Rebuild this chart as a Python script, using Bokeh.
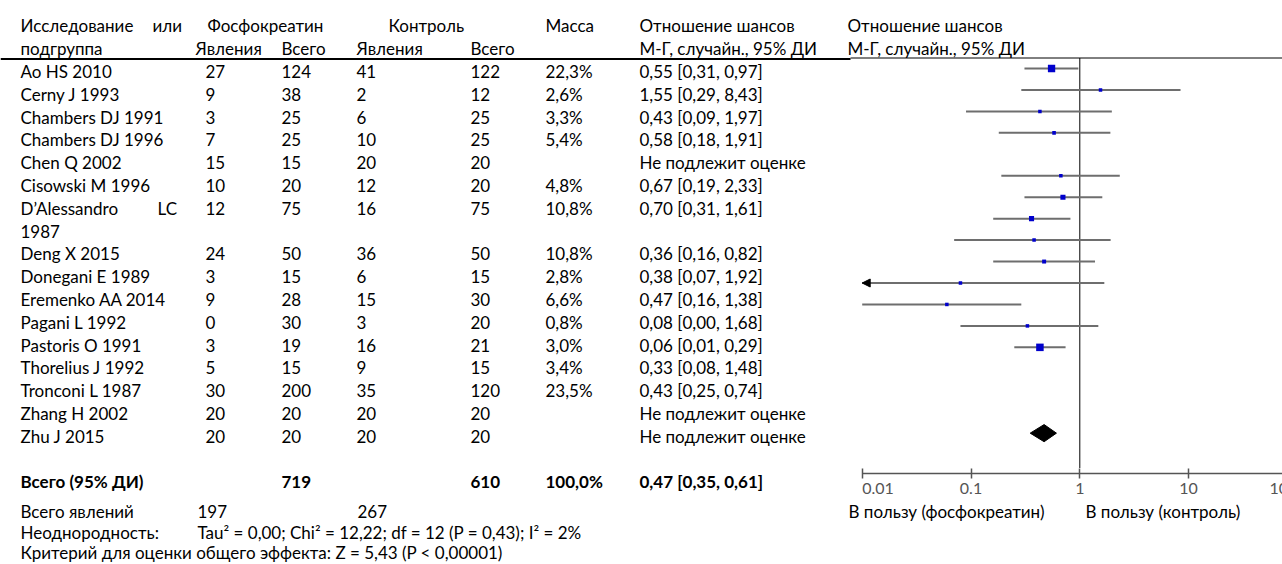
import math
from bokeh.plotting import figure
from bokeh.layouts import column
from bokeh.models import (Range1d, LinearScale, LogScale, LogAxis, FixedTicker,
                          CustomJSTickFormatter, Arrow, NormalHead, ColumnDataSource)
from bokeh.core.properties import value
from bokeh.embed import file_html
from bokeh.resources import INLINE

# ---------------- data ----------------
studies = ["Ao HS 2010", "Cerny J 1993", "Chambers DJ 1991", "Chambers DJ 1996",
           "Chen Q 2002", "Cisowski M 1996", "D’Alessandro LC 1987", "Deng X 2015",
           "Donegani E 1989", "Eremenko AA 2014", "Pagani L 1992", "Pastoris O 1991",
           "Thorelius J 1992", "Tronconi L 1987", "Zhang H 2002", "Zhu J 2015"]
pc_events = [27, 9, 3, 7, 15, 10, 12, 24, 3, 9, 0, 3, 5, 30, 20, 20]
pc_total = [124, 38, 25, 25, 15, 20, 75, 50, 15, 28, 30, 19, 15, 200, 20, 20]
ctrl_events = [41, 2, 6, 10, 20, 12, 16, 36, 6, 15, 3, 16, 9, 35, 20, 20]
ctrl_total = [122, 12, 25, 25, 20, 20, 75, 50, 15, 30, 20, 21, 15, 120, 20, 20]
weight = [22.3, 2.6, 3.3, 5.4, None, 4.8, 10.8, 10.8, 2.8, 6.6, 0.8, 3.0, 3.4, 23.5, None, None]
or_est = [0.55, 1.55, 0.43, 0.58, None, 0.67, 0.70, 0.36, 0.38, 0.47, 0.08, 0.06, 0.33, 0.43, None, None]
ci_lo = [0.31, 0.29, 0.09, 0.18, None, 0.19, 0.31, 0.16, 0.07, 0.16, 0.00, 0.01, 0.08, 0.25, None, None]
ci_hi = [0.97, 8.43, 1.97, 1.91, None, 2.33, 1.61, 0.82, 1.92, 1.38, 1.68, 0.29, 1.48, 0.74, None, None]

total_weight = 100.0
total_or, total_lo, total_hi = 0.47, 0.35, 0.61
heterogeneity = "Tau² = 0,00; Chi² = 12,22; df = 12 (P = 0,43); I² = 2%"
overall_effect = "Критерий для оценки общего эффекта: Z = 5,43 (P < 0,00001)"
not_estimable = "Не подлежит оценке"
axis_ticks = [0.01, 0.1, 1, 10, 100]
favours = ["В пользу (фосфокреатин)", "В пользу (контроль)"]

# ---------------- style / layout ----------------
FONT = "Lato"
FS = "17px"
W = 1282
H_TOP, H_BOT = 468, 96          # axis line sits at y = 473 (5 px border above bottom frame)
AXIS_Y = 473
T0, TS = 71.0, 22.8             # table rows: page y = T0 + TS * row
P0, PS = 68.0, 21.45            # forest rows: page y = P0 + PS * row
X1, DEC = 1079.3, 108.8         # page x of OR = 1, pixels per decade


def trow(y):
    return (y - T0) / TS


def prow(y):
    return (y - P0) / PS


def ru(x, nd=2):
    return f"{x:.{nd}f}".replace(".", ",")


OR_RANGE = (10 ** ((0 - X1) / DEC), 10 ** ((W - X1) / DEC))


def make_fig(h, y0, y1, **kw):
    f = figure(width=W, height=h, output_backend="svg", toolbar_location=None,
               x_range=Range1d(0, W), y_range=Range1d(trow(y1), trow(y0)),
               x_axis_location=None, y_axis_location=None,
               min_border_left=0, min_border_right=0, min_border_bottom=0, **kw)
    f.extra_x_ranges = {"or": Range1d(*OR_RANGE)}
    f.extra_x_scales = {"or": LogScale()}
    f.extra_y_ranges = {"plot": Range1d(prow(y1), prow(y0))}
    f.extra_y_scales = {"plot": LinearScale()}
    f.grid.visible = False
    f.outline_line_color = None
    return f


top = make_fig(H_TOP, 0, H_TOP, min_border_top=0)
bot = make_fig(H_BOT - 5, AXIS_Y, AXIS_Y + H_BOT - 5, min_border_top=5)
bot.height = H_BOT

COL = dict(study=20, pe=205, pt=281, ce=356, ct=470, w=545, orr=639, plot=847)

# ---------------- table text (top) ----------------
xs, ys, ts = [], [], []


def put(x, y, t):
    xs.append(x); ys.append(y); ts.append(t)


put(20, -2, "Исследование"); put(152, -2, "или")
put(207, -2, "Фосфокреатин"); put(388, -2, "Контроль")
put(COL["w"], -2, "Масса"); put(COL["orr"], -2, "Отношение шансов")
put(COL["plot"], -2, "Отношение шансов")
put(20, -1, "подгруппа"); put(195, -1, "Явления"); put(COL["pt"], -1, "Всего")
put(COL["ce"], -1, "Явления"); put(COL["ct"], -1, "Всего")
put(COL["orr"], -1, "М-Г, случайн., 95% ДИ")
put(COL["plot"], -1, "М-Г, случайн., 95% ДИ")

r = 0
for k, s in enumerate(studies):
    wrapped = s.startswith("D’Alessandro")
    if wrapped:
        put(20, r, "D’Alessandro"); put(157, r, "LC"); put(20, r + 1, "1987")
    else:
        put(COL["study"], r, s)
    put(COL["pe"], r, str(pc_events[k]))
    put(COL["pt"], r, str(pc_total[k]))
    put(COL["ce"], r, str(ctrl_events[k]))
    put(COL["ct"], r, str(ctrl_total[k]))
    if weight[k] is not None:
        put(COL["w"], r, ru(weight[k], 1) + "%")
        put(COL["orr"], r, f"{ru(or_est[k])} [{ru(ci_lo[k])}, {ru(ci_hi[k])}]")
    else:
        put(COL["orr"], r, not_estimable)
    r += 2 if wrapped else 1
tot_row = r + 1

top.text(x=xs, y=ys, text=ts, text_font=value(FONT), text_font_size=FS,
         text_baseline="middle", text_align="left", text_color="black")

# header rules
RULE_T = trow(58.5)
RULE_P = prow(57.5)
top.segment(x0=[0], x1=[850], y0=[RULE_T], y1=[RULE_T], line_color="black", line_width=2)
top.segment(x0=[850], x1=[W], y0=[RULE_P], y1=[RULE_P], y_range_name="plot",
            line_color="black", line_width=1)

# ---------------- forest plot (top) ----------------
AX_MIN = axis_ticks[0]
idx = [k for k in range(len(studies)) if or_est[k] is not None]
src = ColumnDataSource(dict(
    y=idx,
    est=[or_est[k] for k in idx],
    lo=[max(ci_lo[k], AX_MIN) for k in idx],
    hi=[ci_hi[k] for k in idx],
    size=[max(3.5, 1.55 * math.sqrt(weight[k])) for k in idx],
))

top.segment(x0=[1], x1=[1], y0=[RULE_P], y1=[prow(H_TOP)], x_range_name="or",
            y_range_name="plot", line_color="black", line_width=1)
top.segment(x0="lo", x1="hi", y0="y", y1="y", source=src, x_range_name="or",
            y_range_name="plot", line_color="#6e6e6e", line_width=2)
top.scatter(x="est", y="y", size="size", marker="square", source=src,
            x_range_name="or", y_range_name="plot", fill_color="#0000cc", line_color=None)

for k in idx:
    if ci_lo[k] < AX_MIN:
        top.add_layout(Arrow(end=NormalHead(size=8, fill_color="black", line_color="black"),
                             x_start=ci_hi[k], y_start=k, x_end=AX_MIN, y_end=k,
                             x_range_name="or", y_range_name="plot", line_alpha=0))

tot_plot_row = len(studies) + 1
top.patch(x=[total_lo, total_or, total_hi, total_or],
          y=[tot_plot_row, tot_plot_row - 0.4, tot_plot_row, tot_plot_row + 0.4],
          x_range_name="or", y_range_name="plot", fill_color="black", line_color="black")

# ---------------- bottom: axis, totals, footnotes ----------------
ax = LogAxis(x_range_name="or", ticker=FixedTicker(ticks=axis_ticks),
             formatter=CustomJSTickFormatter(code="return ''"))
ax.bounds = (axis_ticks[0], axis_ticks[-1])
ax.axis_line_color = "#555555"
ax.axis_line_width = 1.5
ax.major_tick_in = 5
ax.major_tick_out = 5
ax.major_tick_line_color = "#555555"
ax.major_tick_line_width = 1.5
ax.minor_tick_in = 0
ax.minor_tick_out = 0
ax.minor_tick_line_color = None
ax.major_label_text_font_size = "0px"
ax.major_label_standoff = 0
bot.add_layout(ax, "above")

# tick labels (first label left-aligned, last right-aligned, as in the original)
aligns = ["left"] + ["center"] * (len(axis_ticks) - 2) + ["right"]
bot.text(x=axis_ticks, y=[prow(488)] * len(axis_ticks), text=[f"{t:g}" for t in axis_ticks],
         text_align=aligns, x_range_name="or", y_range_name="plot",
         text_font=value(FONT), text_font_size="16px", text_color="#555555",
         text_baseline="middle")
bot.text(x=[848, 1085], y=[prow(511)] * 2, text=favours, y_range_name="plot",
         text_font=value(FONT), text_font_size=FS, text_color="black",
         text_baseline="middle", text_align="left")

bx = [20, COL["pt"], COL["ct"], COL["w"], COL["orr"]]
bt = ["Всего (95% ДИ)", str(sum(pc_total)), str(sum(ctrl_total)),
      ru(total_weight, 1) + "%", f"{ru(total_or)} [{ru(total_lo)}, {ru(total_hi)}]"]
bot.text(x=bx, y=[tot_row] * len(bx), text=bt, text_font=value(FONT), text_font_size=FS,
         text_font_style="bold", text_baseline="middle", text_align="left", text_color="black")

fx = [20, 197, 357, 20, 197, 20]
fy = [trow(511)] * 3 + [trow(532)] * 2 + [trow(552)]
ft = ["Всего явлений", str(sum(pc_events)), str(sum(ctrl_events)),
      "Неоднородность:", heterogeneity, overall_effect]
bot.text(x=fx, y=fy, text=ft, text_font=value(FONT), text_font_size=FS,
         text_baseline="middle", text_align="left", text_color="black")

layout = column(top, bot)
open("out.html", "w").write(file_html(layout, INLINE))
